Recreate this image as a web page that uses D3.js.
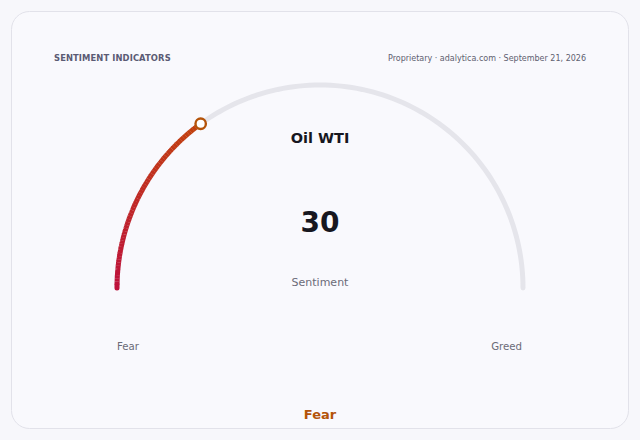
<!DOCTYPE html>
<html><head><meta charset="utf-8">
<script src="https://cdn.jsdelivr.net/npm/d3@7"></script>
<style>
html,body{margin:0;padding:0;background:#f7f7fb;}
svg{display:block;font-family:"DejaVu Sans",sans-serif;}
</style></head>
<body>
<svg id="chart" width="640" height="440"></svg>
<script>
const title = "SENTIMENT INDICATORS";
const source = "Proprietary · adalytica.com · September 21, 2026";
const indicatorName = "Oil WTI";
const indicatorValue = [30];
const domainExtent = [0, 100];
const endLabels = ["Fear", "Greed"];
const metricLabel = "Sentiment";
const zoneLabel = "Fear";
const gradientColors = ["#be123c", "#c2410c"];

const svg = d3.select("#chart");

svg.append("rect").attr("x", 11.5).attr("y", 11.5).attr("width", 617).attr("height", 417)
  .attr("rx", 18).attr("fill", "#f9f9fd").attr("stroke", "#e2e2ea").attr("stroke-width", 1);

svg.append("text").attr("x", 54).attr("y", 61).text(title)
  .attr("font-size", 8.4).attr("font-weight", "bold").attr("letter-spacing", 0.1).attr("fill", "#5b5b74");
svg.append("text").attr("x", 586).attr("y", 61).attr("text-anchor", "end").text(source)
  .attr("font-size", 8).attr("fill", "#5e6070");

const cx = 320, cy = 288, r = 203;
const angle = d3.scaleLinear().domain(domainExtent).range([-Math.PI / 2, Math.PI / 2]);
const g = svg.append("g").attr("transform", `translate(${cx},${cy})`);

const arcLine = (a0, a1) => {
  const n = 120, pts = [];
  for (let i = 0; i <= n; i++) { const a = a0 + (a1 - a0) * i / n; pts.push([r * Math.sin(a), -r * Math.cos(a)]); }
  return d3.line()(pts);
};
g.append("path").attr("d", arcLine(angle(domainExtent[0]), angle(domainExtent[1])))
  .attr("fill", "none").attr("stroke", "#e5e5eb").attr("stroke-width", 5).attr("stroke-linecap", "round");

const v = indicatorValue[0];
const a0 = angle(domainExtent[0]), a1 = angle(v);
const segs = 60;
const col = d3.interpolateRgb(gradientColors[0], gradientColors[1]);
const segData = d3.range(segs).map(i => ({ s: a0 + (a1 - a0) * i / segs, e: a0 + (a1 - a0) * (i + 1.05) / segs, t: i / (segs - 1) }));
g.selectAll("path.seg").data(segData).join("path").attr("class", "seg")
  .attr("d", d => arcLine(d.s, Math.min(d.e, a1)))
  .attr("fill", "none").attr("stroke", d => col(d.t)).attr("stroke-width", 5)
  .attr("stroke-linecap", (d, i) => i === 0 ? "round" : "butt");

g.append("circle").attr("cx", r * Math.sin(a1)).attr("cy", -r * Math.cos(a1)).attr("r", 5.2)
  .attr("fill", "#ffffff").attr("stroke", "#b45309").attr("stroke-width", 2.4);

svg.append("text").attr("x", 320).attr("y", 143).attr("text-anchor", "middle").text(indicatorName)
  .attr("font-size", 14.5).attr("font-weight", "bold").attr("fill", "#17171f");
svg.append("text").attr("x", 320).attr("y", 232).attr("text-anchor", "middle").text(v)
  .attr("font-size", 28).attr("font-weight", "bold").attr("fill", "#17171f");
svg.append("text").attr("x", 320).attr("y", 286).attr("text-anchor", "middle").text(metricLabel)
  .attr("font-size", 11).attr("fill", "#6b6b78");

svg.append("text").attr("x", cx - r).attr("y", 350).text(endLabels[0])
  .attr("font-size", 10.2).attr("fill", "#6b6b78");
svg.append("text").attr("x", cx + r - 1).attr("y", 350).attr("text-anchor", "end").text(endLabels[1])
  .attr("font-size", 10.2).attr("fill", "#6b6b78");

svg.append("text").attr("x", 320).attr("y", 419).attr("text-anchor", "middle").text(zoneLabel)
  .attr("font-size", 13).attr("font-weight", "bold").attr("fill", "#b45309");
</script>
</body></html>
